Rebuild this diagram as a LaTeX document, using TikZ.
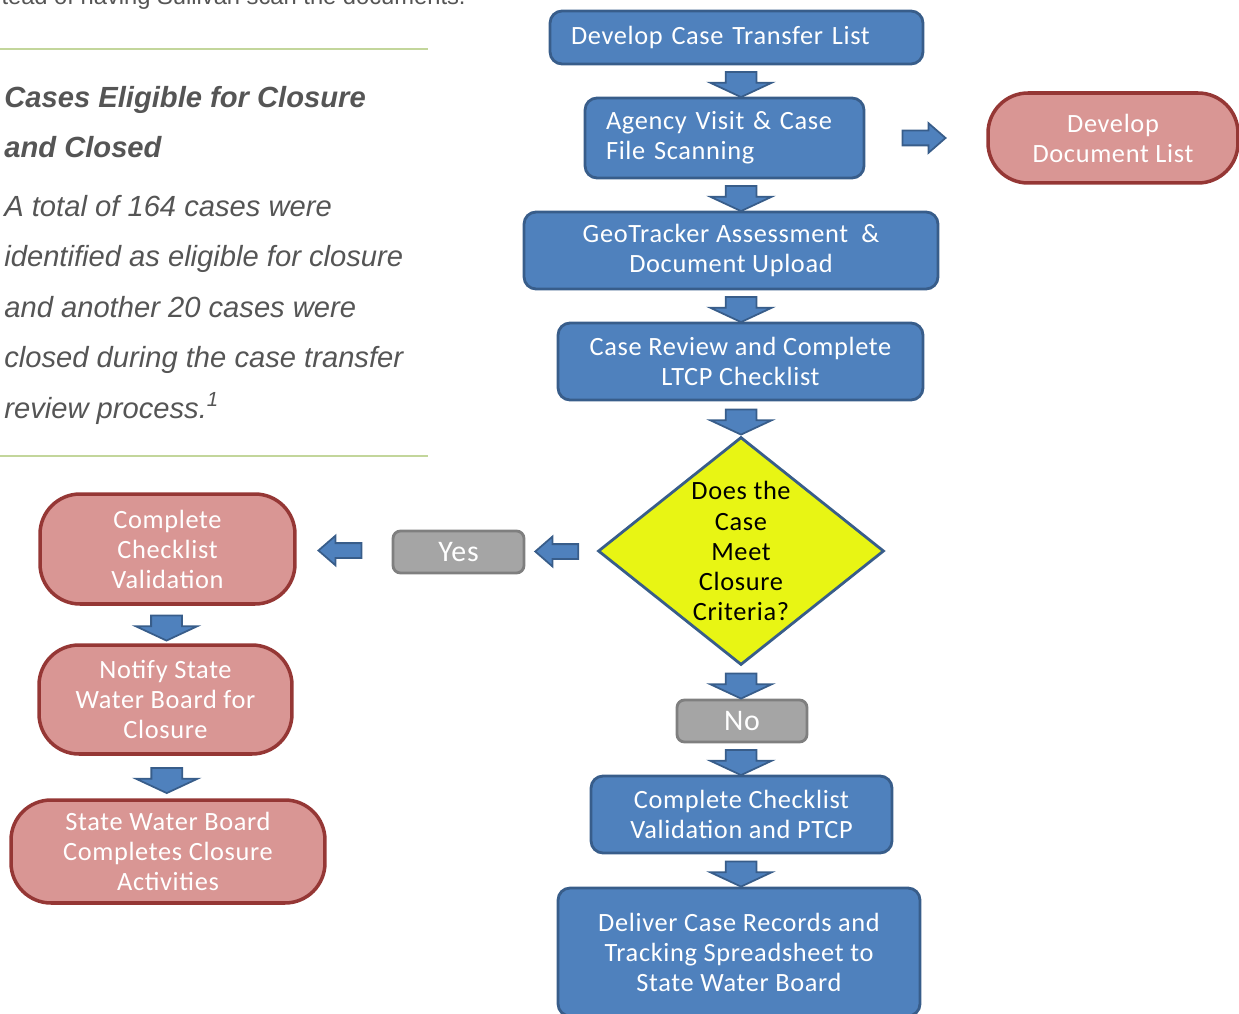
\documentclass[tikz,border=0pt]{standalone}
\usepackage{fontspec}
\setmainfont{Carlito}
\newfontfamily\arialfont{Liberation Sans}
\newfontfamily\flowfamily[LetterSpace=2.5]{Carlito}
\usepackage{tikz}
\usetikzlibrary{shapes.geometric,shapes.arrows,positioning,calc}
\definecolor{dfblue}{RGB}{79,129,189}
\definecolor{dfdarkblue}{RGB}{56,93,138}
\definecolor{dfpink}{RGB}{217,150,148}
\definecolor{dfred}{RGB}{149,55,53}
\definecolor{dfgray}{RGB}{165,165,165}
\definecolor{dfdarkgray}{RGB}{127,127,127}
\definecolor{dfyellow}{RGB}{232,245,20}
\definecolor{dfolive}{RGB}{195,214,155}
\definecolor{dftext}{RGB}{85,85,85}
\newcommand\flowfont{\flowfamily\fontsize{15}{17.1}\selectfont}
\tikzstyle{bluebox} = [rectangle, rounded corners=0.24cm, draw=dfdarkblue, fill=dfblue, line width=1.6pt, text=white, font=\flowfont, align=center]
\tikzstyle{pinkbox} = [rectangle, rounded corners=0.8cm, draw=dfred, fill=dfpink, line width=2pt, text=white, font=\flowfont, align=center]
\tikzstyle{choicebox} = [rectangle, rounded corners=0.15cm, draw=dfdarkgray, fill=dfgray, line width=1.6pt, text=white, font=\flowfamily\fontsize{17}{20}\selectfont, minimum width=2.62cm, minimum height=0.84cm]
\tikzstyle{decision} = [diamond, aspect=1.25, minimum width=5.72cm, minimum height=4.56cm, inner sep=0pt, draw=dfdarkblue, fill=dfyellow, line width=1.6pt, font=\flowfont, align=center]
\tikzstyle{downarrow} = [single arrow, rotate=-90, draw=dfdarkblue, fill=dfblue, line width=1pt, inner xsep=0pt, inner ysep=0.29cm, minimum height=0.5cm, single arrow head extend=0.31cm, single arrow tip angle=130]
\tikzstyle{sidearrow} = [single arrow, draw=dfdarkblue, fill=dfblue, line width=1pt, inner xsep=0pt, inner ysep=0.13cm, minimum height=0.86cm, single arrow head extend=0.15cm, single arrow tip angle=82]
\tikzstyle{rule} = [dfolive, line width=1pt]
\tikzstyle{sidetext} = [anchor=base west, inner sep=0pt, align=left, text=dftext]

\begin{document}
\begin{tikzpicture}[x=0.02cm, y=-0.02cm]
\clip (0,0) rectangle (1239,1013);
% text column on the left (base = last line)
\node[anchor=base east, inner sep=0pt, text=dftext, font=\arialfont\fontsize{13.5}{16}\selectfont] (prev) at (466,5) {tead of having Sullivan scan the documents.};
\draw[rule] (0,49) -- (428,49);
\node[sidetext, font=\arialfont\bfseries\itshape\fontsize{16.6}{28.5}\selectfont] (head) at (4,158) {Cases Eligible for Closure\\and Closed};
\node[sidetext, font=\arialfont\itshape\fontsize{16.6}{28.7}\selectfont] (summary) at (4,418) {A total of 164 cases were\\identified as eligible for closure\\and another 20 cases were\\closed during the case transfer\\review process.\textsuperscript{1}};
\draw[rule] (0,456) -- (428,456);
% main flow
\node[bluebox, minimum height=1.06cm, text width=6.62cm, inner xsep=0.42cm, align=left] (dev) at (736.5,37.5) {Develop Case Transfer List};
\node[bluebox, minimum height=1.6cm, text width=4.74cm, inner xsep=0.42cm, align=left] (agency) at (724.5,138) {Agency Visit \& Case\\File Scanning};
\node[pinkbox, minimum width=5cm, minimum height=1.8cm] (doclist) at (1113,138) {Develop\\Document List};
\node[bluebox, minimum width=8.28cm, minimum height=1.54cm] (geo) at (731,250.5) {GeoTracker Assessment \ \&\\Document Upload};
\node[bluebox, minimum width=7.3cm, minimum height=1.54cm] (review) at (740.5,361.5) {Case Review and Complete\\LTCP Checklist};
\node[decision] (dia) at (741,551) {Does the\\Case\\Meet\\Closure\\Criteria?};
\node[choicebox] (yes) at (458.5,552) {Yes};
\node[choicebox, minimum width=2.6cm] (no) at (742,721) {No};
\node[bluebox, minimum width=6.02cm, minimum height=1.54cm] (ptcp) at (741.5,814.5) {Complete Checklist\\Validation and PTCP};
\node[bluebox, minimum width=7.24cm, minimum height=2.56cm] (deliver) at (739,952) {Deliver Case Records and\\Tracking Spreadsheet to\\State Water Board};
% closure branch
\node[pinkbox, minimum width=5.1cm, minimum height=2.2cm] (valid) at (167.5,549) {Complete\\Checklist\\Validation};
\node[pinkbox, minimum width=5.06cm, minimum height=2.18cm] (notify) at (165.5,699.5) {Notify State\\Water Board for\\Closure};
\node[pinkbox, minimum width=6.28cm, minimum height=2.06cm] (board) at (168,851.5) {State Water Board\\Completes Closure\\Activities};
% block arrows
\node[downarrow] (a1) at ($(dev.south -| dia)!0.5!(agency.north -| dia)$) {};
\node[downarrow] (a2) at ($(agency.south -| dia)!0.5!(geo.north -| dia)$) {};
\node[downarrow] (a3) at ($(geo.south -| dia)!0.5!(review.north -| dia)$) {};
\node[downarrow] (a4) at ($(review.south -| dia)!0.5!(dia.north)$) {};
\node[downarrow] (a5) at ($(dia.south)!0.5!(no.north -| dia)$) {};
\node[downarrow] (a6) at ($(no.south -| dia)!0.5!(ptcp.north -| dia)$) {};
\node[downarrow] (a7) at ($(ptcp.south -| dia)!0.5!(deliver.north -| dia)$) {};
\node[sidearrow] (a8) at ($(agency.east)!0.45!(doclist.west)$) {};
\node[sidearrow, rotate=180] (a9) at ($(yes.east)!0.5!(dia.west)$) {};
\node[sidearrow, rotate=180] (a10) at ($(valid.east)!0.5!(yes.west)$) {};
\node[downarrow] (a11) at ($(valid.south)!0.5!(notify.north)$) {};
\node[downarrow] (a12) at ($(notify.south)!0.5!(board.north)$) {};
\end{tikzpicture}
\end{document}
